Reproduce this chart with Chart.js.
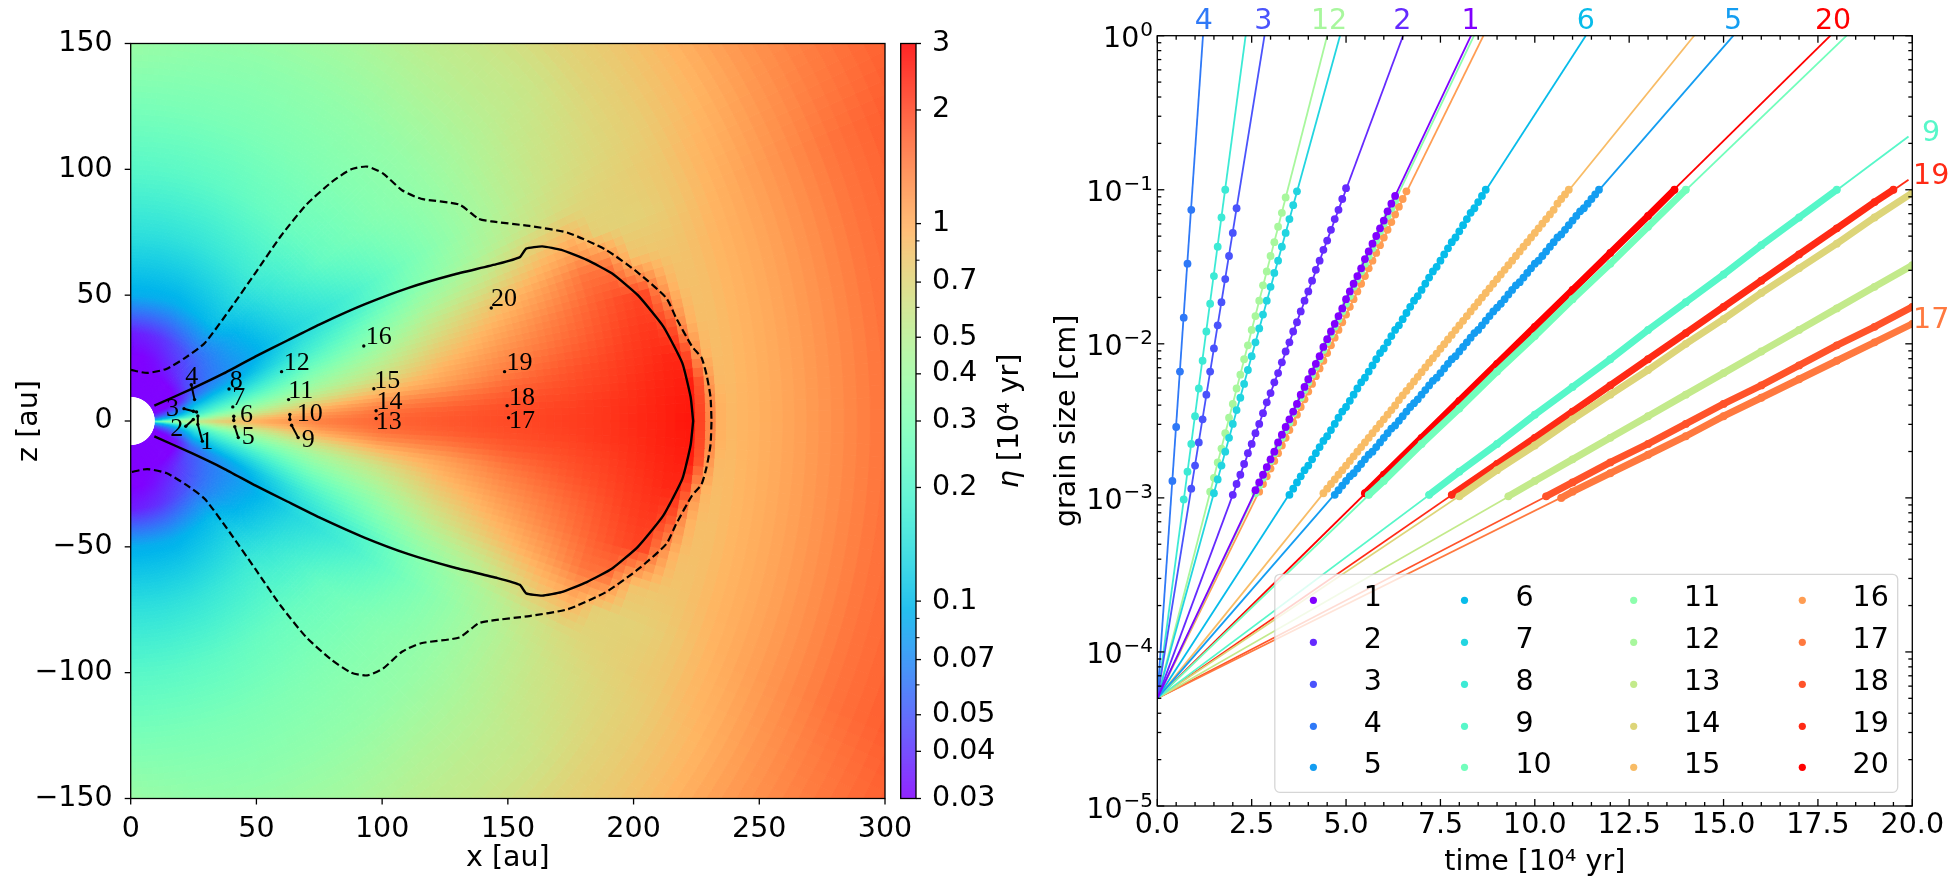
<!DOCTYPE html>
<html><head><meta charset="utf-8">
<script src="https://cdn.jsdelivr.net/npm/chart.js@4"></script>
<style>html,body{margin:0;padding:0;background:#fff;overflow:hidden}canvas{position:absolute;left:0;top:0}</style>
</head><body>
<canvas id="map" width="1958" height="890"></canvas>
<canvas id="bar" width="1958" height="890"></canvas>
<canvas id="tracks" width="1958" height="890"></canvas>
<script>
// ---------- left panel data ----------
const heatR=[10,15,20,26,35,50,75,100,125,150,175,190,200,210,218,224,228,232,236,245,260,280,300,340];
const heatTheta=[0,2,4,7,10,14,18,22,26,30,40,50,60,70,80,90];
const heatEta=[
[.25,.35,.45,.55,.75,1.0,1.4,1.65,1.8,1.95,2.1,2.2,2.35,2.45,2.6,2.65,1.75,1.2,.9,.95,1.05,1.25,1.5,1.9],
[.14,.2,.3,.38,.55,.78,1.2,1.55,1.72,1.9,2.05,2.2,2.3,2.45,2.55,2.6,1.7,1.15,.9,.95,1.05,1.25,1.5,1.9],
[.09,.12,.17,.24,.38,.55,.95,1.3,1.48,1.75,1.95,2.1,2.25,2.4,2.5,2.55,1.6,1.0,.88,.95,1.05,1.25,1.5,1.9],
[.07,.08,.11,.16,.24,.38,.62,.88,1.1,1.45,1.8,2.0,2.15,2.3,2.45,1.8,1.0,.9,.88,.95,1.05,1.25,1.5,1.9],
[.05,.06,.08,.13,.18,.27,.44,.62,.93,1.25,1.6,1.85,2.05,2.2,2.0,1.1,.9,.87,.88,.95,1.05,1.25,1.5,1.9],
[.04,.045,.06,.1,.13,.18,.32,.46,.72,1.02,1.4,1.7,1.9,2.05,1.2,.88,.86,.86,.88,.95,1.05,1.25,1.5,1.9],
[.033,.035,.045,.075,.1,.13,.23,.34,.55,.8,1.15,1.5,1.5,.85,.82,.82,.83,.85,.88,.95,1.05,1.25,1.5,1.9],
[.03,.03,.035,.058,.075,.1,.17,.26,.4,.55,.85,1.0,.75,.73,.74,.76,.78,.81,.84,.92,1.05,1.25,1.5,1.9],
[.03,.03,.032,.05,.065,.085,.14,.19,.3,.42,.58,.66,.7,.73,.75,.77,.79,.8,.82,.9,1.0,1.2,1.4,1.75],
[.03,.03,.03,.047,.06,.08,.13,.18,.27,.38,.52,.6,.64,.68,.71,.73,.75,.76,.78,.85,.95,1.15,1.33,1.7],
[.03,.03,.03,.042,.055,.085,.15,.24,.31,.37,.47,.53,.56,.6,.65,.7,.72,.74,.76,.8,.9,1.1,1.3,1.6],
[.03,.03,.03,.038,.05,.1,.17,.25,.31,.36,.46,.52,.55,.6,.65,.7,.72,.74,.76,.8,.9,1.1,1.3,1.6],
[.03,.03,.03,.035,.045,.095,.16,.24,.3,.35,.43,.5,.55,.6,.65,.7,.72,.74,.76,.8,.9,1.1,1.3,1.6],
[.03,.03,.03,.032,.04,.09,.15,.225,.29,.34,.43,.5,.55,.6,.65,.7,.72,.74,.76,.8,.9,1.1,1.3,1.6],
[.03,.03,.03,.03,.037,.09,.145,.215,.285,.35,.43,.5,.55,.6,.65,.7,.72,.74,.76,.8,.9,1.1,1.3,1.6],
[.03,.03,.03,.03,.035,.09,.145,.21,.28,.38,.45,.5,.55,.6,.65,.7,.72,.74,.76,.8,.9,1.1,1.3,1.6]];
const solidX=[9.4,24.3,37,49.7,62.3,75,92.7,110.5,128.2,145.9,154.8,157.3,163.7,171.3,181.4,191.5,201.7,211.8,219.4,222.7,223.7];
const solidZ=[6.1,12.8,18.9,25.7,32,38.3,46.2,52.9,58.1,62.4,65.1,68.5,69.4,68,64,58.6,50,37.6,23,9.5,0];
const dashX=[0,6.6,14.2,21.8,29.4,39.5,49.7,59.8,69.9,80,87.7,94,100.3,107.9,115.5,130.7,138.3,143.4,158.6,173.8,189,201.7,213,216.9,223.2,227,229,230.6,231];
const dashZ=[20.3,19.1,20.7,25.2,30.9,44.4,59,73.6,86,95,100,101.1,98.4,91.7,88.3,86,80.4,79.3,77.5,74.8,68,59,48.9,41,29.7,25.2,18.5,9.5,0];
const trackX=[[26.7,26.7,28.5],[21.9,24.9],[21.2,24.9,26.2],[24.1,25.4],[41.4,42.8],[41,41],[40.6],[39.1],[64,66.6],[63.3,63.3],[62.8],[60],[97.6],[97.6],[96.7],[92.7],[150.3],[149.7],[148.7],[143.4]];
const trackZ=[[2,-1.4,-8],[-2.1,.6],[4.9,3.9,3.6],[14.4,8.5],[-2.3,-6.6],[1.9,.2],[5.6],[12.7],[-1.7,-6.6],[2.6,.6],[8.5],[19.6],[1],[4.1],[12.8],[29.8],[1.3],[6.1],[19.6],[44.9]];
const pointLabelX=[30.2,18.3,16.6,24.3,46.8,46.1,43,42,70.6,71.2,67.6,66,102.6,102.9,102,98.7,155.6,155.6,154.6,148.5];
const pointLabelZ=[-8.6,-3.1,4.6,17.6,-6.6,2.2,9.2,15.8,-7.5,2.8,12,22.8,-.4,7.5,16,33.5,-.1,9.2,23,48.6];
const xTicksMap=[0,50,100,150,200,250,300];
const zTicksMap=[-150,-100,-50,0,50,100,150];
const barTicks=[.03,.04,.05,.06,.07,.08,.09,.1,.2,.3,.4,.5,.6,.7,.8,.9,1,2,3];
const barLabels=[.03,.04,.05,.07,.1,.2,.3,.4,.5,.7,1,2,3];

// ---------- right panel data: log10(grain size [cm]) at the time of each plotted dot ----------
const seriesNames=['1','2','3','4','5','6','7','8','9','10','11','12','13','14','15','16','17','18','19','20'];
const lineEndT=[8.31,6.51,2.84,1.21,15.26,11.35,4.84,2.34,19.9,18.26,8.39,4.5,20,20,14.22,8.64,20,20,19.9,17.83];
const lineEndLog=[0,0,0,0,0,0,0,0,-.654,0,0,0,-1.487,-1.017,0,0,-1.866,-1.758,-.935,0];
const denseBand=[0,0,0,0,0,0,0,0,1,1,0,0,1,1,0,0,1,1,1,1];
const t1=[2.6,2.7,2.8,2.9,3,3.1,3.2,3.3,3.4,3.5,3.6,3.7,3.8,3.9,4,4.1,4.2,4.3,4.4,4.5,4.6,4.7,4.8,4.9,5,5.1,5.2,5.3,5.4,5.5,5.6,5.7,5.8,5.9,6,6.1,6.2,6.3];
const l1=[-2.95,-2.9,-2.85,-2.8,-2.75,-2.7,-2.64,-2.59,-2.54,-2.49,-2.44,-2.39,-2.33,-2.28,-2.23,-2.18,-2.13,-2.08,-2.02,-1.97,-1.92,-1.87,-1.82,-1.77,-1.71,-1.66,-1.61,-1.56,-1.51,-1.45,-1.4,-1.35,-1.3,-1.25,-1.2,-1.14,-1.09,-1.04];
const t2=[2,2.1,2.2,2.3,2.4,2.5,2.6,2.7,2.8,2.9,3,3.1,3.2,3.3,3.4,3.5,3.6,3.7,3.8,3.9,4,4.1,4.2,4.3,4.4,4.5,4.6,4.7,4.8,4.9,5];
const l2=[-2.98,-2.91,-2.85,-2.78,-2.71,-2.65,-2.58,-2.52,-2.45,-2.38,-2.32,-2.25,-2.19,-2.12,-2.05,-1.99,-1.92,-1.86,-1.79,-1.72,-1.66,-1.59,-1.52,-1.46,-1.39,-1.33,-1.26,-1.19,-1.13,-1.06,-.99];
const t3=[.9,1,1.1,1.2,1.3,1.4,1.5,1.6,1.7,1.8,1.9,2,2.1];
const l3=[-2.94,-2.79,-2.64,-2.49,-2.33,-2.18,-2.03,-1.88,-1.73,-1.58,-1.43,-1.28,-1.12];
const t4=[.4,.5,.6,.7,.8,.9];
const l4=[-2.89,-2.54,-2.18,-1.83,-1.48,-1.13];
const t5=[4.7,4.8,4.9,5,5.1,5.2,5.3,5.4,5.5,5.6,5.7,5.8,5.9,6,6.1,6.2,6.3,6.4,6.5,6.6,6.7,6.8,6.9,7,7.1,7.2,7.3,7.4,7.5,7.6,7.7,7.8,7.9,8,8.1,8.2,8.3,8.4,8.5,8.6,8.7,8.8,8.9,9,9.1,9.2,9.3,9.4,9.5,9.6,9.7,9.8,9.9,10,10.1,10.2,10.3,10.4,10.5,10.6,10.7,10.8,10.9,11,11.1,11.2,11.3,11.4,11.5,11.6,11.7];
const l5=[-2.98,-2.95,-2.92,-2.89,-2.86,-2.84,-2.81,-2.78,-2.75,-2.72,-2.7,-2.67,-2.64,-2.61,-2.58,-2.55,-2.53,-2.5,-2.47,-2.44,-2.41,-2.385,-2.36,-2.33,-2.3,-2.27,-2.24,-2.22,-2.19,-2.16,-2.13,-2.1,-2.08,-2.05,-2.02,-1.99,-1.96,-1.93,-1.91,-1.88,-1.85,-1.82,-1.79,-1.765,-1.74,-1.71,-1.68,-1.65,-1.62,-1.6,-1.57,-1.54,-1.51,-1.48,-1.46,-1.43,-1.4,-1.37,-1.34,-1.31,-1.29,-1.26,-1.23,-1.2,-1.17,-1.14,-1.12,-1.09,-1.06,-1.03,-1];
const t6=[3.5,3.6,3.7,3.8,3.9,4,4.1,4.2,4.3,4.4,4.5,4.6,4.7,4.8,4.9,5,5.1,5.2,5.3,5.4,5.5,5.6,5.7,5.8,5.9,6,6.1,6.2,6.3,6.4,6.5,6.6,6.7,6.8,6.9,7,7.1,7.2,7.3,7.4,7.5,7.6,7.7,7.8,7.9,8,8.1,8.2,8.3,8.4,8.5,8.6,8.7];
const l6=[-2.98,-2.94,-2.9,-2.86,-2.82,-2.79,-2.75,-2.71,-2.67,-2.63,-2.6,-2.56,-2.52,-2.48,-2.44,-2.41,-2.37,-2.33,-2.29,-2.25,-2.22,-2.18,-2.14,-2.1,-2.06,-2.03,-1.99,-1.95,-1.91,-1.88,-1.84,-1.8,-1.76,-1.72,-1.69,-1.65,-1.61,-1.57,-1.53,-1.5,-1.46,-1.42,-1.38,-1.34,-1.31,-1.27,-1.23,-1.19,-1.15,-1.12,-1.08,-1.04,-1];
const t7=[1.5,1.6,1.7,1.8,1.9,2,2.1,2.2,2.3,2.4,2.5,2.6,2.7,2.8,2.9,3,3.1,3.2,3.3,3.4,3.5,3.6,3.7];
const l7=[-2.97,-2.88,-2.79,-2.7,-2.61,-2.52,-2.43,-2.35,-2.26,-2.17,-2.08,-1.99,-1.9,-1.81,-1.72,-1.63,-1.54,-1.46,-1.37,-1.28,-1.19,-1.1,-1.01];
const t8=[.7,.8,.9,1,1.1,1.2,1.3,1.4,1.5,1.6,1.7,1.8];
const l8=[-3.01,-2.83,-2.65,-2.47,-2.29,-2.11,-1.92,-1.74,-1.56,-1.37,-1.18,-1];
const t9=[7.2,8,9,10,11,12,13,14,15,16,17,18];
const l9=[-2.98,-2.83,-2.65,-2.46,-2.28,-2.1,-1.91,-1.73,-1.55,-1.36,-1.18,-1];
const t10=[5.6,6,7,8,9,10,11,12,13,14];
const l10=[-2.98,-2.89,-2.65,-2.42,-2.18,-1.95,-1.71,-1.48,-1.24,-1];
const t11=[2.6,2.7,2.8,2.9,3,3.1,3.2,3.3,3.4,3.5,3.6,3.7,3.8,3.9,4,4.1,4.2,4.3,4.4,4.5,4.6,4.7,4.8,4.9,5,5.1,5.2,5.3,5.4,5.5,5.6,5.7,5.8,5.9,6,6.1,6.2,6.3];
const l11=[-2.97,-2.92,-2.87,-2.81,-2.76,-2.71,-2.66,-2.61,-2.56,-2.51,-2.45,-2.4,-2.35,-2.3,-2.25,-2.2,-2.15,-2.1,-2.04,-1.99,-1.94,-1.89,-1.84,-1.79,-1.74,-1.69,-1.63,-1.58,-1.53,-1.48,-1.43,-1.38,-1.33,-1.27,-1.22,-1.17,-1.12,-1.07];
const t12=[1.4,1.5,1.6,1.7,1.8,1.9,2,2.1,2.2,2.3,2.4,2.5,2.6,2.7,2.8,2.9,3,3.1,3.2,3.3,3.4];
const l12=[-2.96,-2.87,-2.77,-2.68,-2.58,-2.48,-2.39,-2.29,-2.2,-2.1,-2.01,-1.91,-1.82,-1.72,-1.62,-1.53,-1.43,-1.34,-1.24,-1.15,-1.05];
const t13=[9.3,10,11,12,13,14,15,16,17,18,19,20];
const l13=[-2.99,-2.89,-2.75,-2.61,-2.47,-2.33,-2.19,-2.05,-1.91,-1.77,-1.63,-1.49];
const t14=[8,9,10,11,12,13,14,15,16,17,18,19,20];
const l14=[-2.99,-2.82,-2.66,-2.49,-2.33,-2.17,-2,-1.84,-1.67,-1.51,-1.35,-1.18,-1.02];
const t15=[4.4,4.5,4.6,4.7,4.8,4.9,5,5.1,5.2,5.3,5.4,5.5,5.6,5.7,5.8,5.9,6,6.1,6.2,6.3,6.4,6.5,6.6,6.7,6.8,6.9,7,7.1,7.2,7.3,7.4,7.5,7.6,7.7,7.8,7.9,8,8.1,8.2,8.3,8.4,8.5,8.6,8.7,8.8,8.9,9,9.1,9.2,9.3,9.4,9.5,9.6,9.7,9.8,9.9,10,10.1,10.2,10.3,10.4,10.5,10.6,10.7,10.8,10.9];
const l15=[-2.97,-2.94,-2.91,-2.88,-2.85,-2.82,-2.79,-2.76,-2.73,-2.7,-2.67,-2.64,-2.61,-2.58,-2.55,-2.52,-2.49,-2.46,-2.43,-2.4,-2.365,-2.335,-2.305,-2.274,-2.244,-2.214,-2.184,-2.153,-2.123,-2.093,-2.063,-2.032,-2.002,-1.972,-1.942,-1.911,-1.881,-1.851,-1.82,-1.79,-1.76,-1.73,-1.7,-1.67,-1.64,-1.61,-1.58,-1.55,-1.52,-1.49,-1.46,-1.43,-1.4,-1.37,-1.34,-1.31,-1.28,-1.25,-1.22,-1.19,-1.16,-1.13,-1.09,-1.06,-1.03,-1];
const t16=[2.7,2.8,2.9,3,3.1,3.2,3.3,3.4,3.5,3.6,3.7,3.8,3.9,4,4.1,4.2,4.3,4.4,4.5,4.6,4.7,4.8,4.9,5,5.1,5.2,5.3,5.4,5.5,5.6,5.7,5.8,5.9,6,6.1,6.2,6.3,6.4,6.5,6.6];
const l16=[-2.96,-2.91,-2.86,-2.81,-2.76,-2.71,-2.66,-2.61,-2.56,-2.51,-2.46,-2.41,-2.36,-2.31,-2.26,-2.21,-2.16,-2.11,-2.06,-2.01,-1.96,-1.91,-1.86,-1.81,-1.76,-1.71,-1.66,-1.61,-1.56,-1.51,-1.46,-1.41,-1.36,-1.31,-1.26,-1.21,-1.16,-1.11,-1.06,-1.01];
const t17=[10.7,11,12,13,14,15,16,17,18,19,20];
const l17=[-3,-2.96,-2.84,-2.72,-2.6,-2.47,-2.35,-2.23,-2.11,-1.99,-1.87];
const t18=[10.3,11,12,13,14,15,16,17,18,19,20];
const l18=[-2.99,-2.9,-2.77,-2.65,-2.52,-2.39,-2.27,-2.14,-2.01,-1.89,-1.76];
const t19=[7.8,9,10,11,12,13,14,15,16,17,18,19,19.5];
const l19=[-2.98,-2.78,-2.61,-2.44,-2.27,-2.1,-1.93,-1.76,-1.59,-1.42,-1.25,-1.08,-1];
const t20=[5.5,6,7,8,9,10,11,12,13,13.7];
const l20=[-2.97,-2.85,-2.61,-2.37,-2.13,-1.89,-1.65,-1.41,-1.17,-1];
const dotT=[t1,t2,t3,t4,t5,t6,t7,t8,t9,t10,t11,t12,t13,t14,t15,t16,t17,t18,t19,t20];
const dotLog=[l1,l2,l3,l4,l5,l6,l7,l8,l9,l10,l11,l12,l13,l14,l15,l16,l17,l18,l19,l20];
const startSize=5e-5;
const endLabels=['4','3','12','2','1','6','5','20','9','19','17'];
const endLabelT=[1.23,2.81,4.55,6.49,8.3,11.35,15.25,17.9,20.5,20.5,20.5];
const endLabelA=[1.233,1.233,1.233,1.233,1.233,1.233,1.233,1.233,.233,.121,.0141];
const endLabelIdx=[3,2,11,1,0,5,4,19,8,18,16];
const xTicksTime=[0,2.5,5,7.5,10,12.5,15,17.5,20];
const yTicksSize=[1e-5,1e-4,1e-3,1e-2,1e-1,1];
const ySizeExp=['−5','−4','−3','−2','−1','0'];

// ---------- style ----------
const FS=28.5, LINE=1.3;
Chart.defaults.font.family='"DejaVu Sans"';
Chart.defaults.font.size=FS;
Chart.defaults.color='#000';
Chart.defaults.animation=false;
Chart.defaults.responsive=false;
Chart.defaults.devicePixelRatio=1;
Chart.defaults.plugins.legend.display=false;
Chart.defaults.plugins.tooltip.enabled=false;
const rainbow=t=>{const c=v=>Math.round(255*Math.max(0,Math.min(1,v)));
  return `rgb(${c(Math.abs(2*t-.5))},${c(Math.sin(Math.PI*t))},${c(Math.cos(Math.PI*t/2))})`;};
const normEta=e=>Math.log(e/.03)/Math.log(100);
const seriesColor=i=>rainbow(i/19);
const frame=(c)=>{const {ctx,chartArea:a}=c;ctx.save();ctx.strokeStyle='#000';ctx.lineWidth=LINE;ctx.strokeRect(a.left,a.top,a.right-a.left,a.bottom-a.top);ctx.restore();};
const tick=(ctx,x0,y0,x1,y1,w)=>{ctx.lineWidth=w||LINE;ctx.beginPath();ctx.moveTo(x0,y0);ctx.lineTo(x1,y1);ctx.stroke();};

// ---------- heat lookup ----------
function findIdx(arr,v){let i=0;while(i<arr.length-2&&v>arr[i+1])i++;return i;}
function heatAt(r,th){
  const i=findIdx(heatR,r),j=findIdx(heatTheta,th);
  const u=Math.max(0,Math.min(1,(r-heatR[i])/(heatR[i+1]-heatR[i])));
  const v=Math.max(0,Math.min(1,(th-heatTheta[j])/(heatTheta[j+1]-heatTheta[j])));
  const L=(a,b)=>Math.log(heatEta[a][b]);
  return Math.exp((1-u)*(1-v)*L(j,i)+u*(1-v)*L(j,i+1)+(1-u)*v*L(j+1,i)+u*v*L(j+1,i+1));
}
const heatPlugin={id:'heat',beforeDatasetsDraw(c){
  const {ctx,chartArea:a,scales:{x,y}}=c;
  ctx.save();ctx.beginPath();ctx.rect(a.left,a.top,a.right-a.left,a.bottom-a.top);ctx.clip();
  const STEP=.9,dTh=STEP*Math.PI/180,dLn=.018;ctx.lineWidth=1;
  for(let k=-100;k<100;k++){
    const t0=k*dTh,t1_=(k+1)*dTh,tc=Math.abs((k+.5)*STEP);
    for(let r0=9.8;r0<345;r0*=Math.exp(dLn)){
      const r1=r0*Math.exp(dLn),col=rainbow(normEta(heatAt(Math.sqrt(r0*r1),tc)));
      const P=(r,t)=>[x.getPixelForValue(r*Math.cos(t)),y.getPixelForValue(r*Math.sin(t))];
      ctx.fillStyle=col;ctx.strokeStyle=col;ctx.beginPath();
      ctx.moveTo(...P(r0,t0));ctx.lineTo(...P(r1,t0));ctx.lineTo(...P(r1,t1_));ctx.lineTo(...P(r0,t1_));ctx.closePath();
      ctx.fill();ctx.stroke();
    }
  }
  ctx.restore();
},afterDatasetsDraw(c){
  const {ctx,chartArea:a,scales:{x,y}}=c;
  ctx.save();ctx.fillStyle='#000';ctx.font='26px "Liberation Serif"';ctx.textAlign='center';ctx.textBaseline='middle';
  seriesNames.forEach((n,i)=>ctx.fillText(n,x.getPixelForValue(pointLabelX[i]),y.getPixelForValue(pointLabelZ[i])));
  ctx.restore();
  frame(c);
  ctx.save();ctx.strokeStyle='#000';
  xTicksMap.forEach(v=>{const p=x.getPixelForValue(v);tick(ctx,p,a.bottom,p,a.bottom+6);});
  zTicksMap.forEach(v=>{const p=y.getPixelForValue(v);tick(ctx,a.left,p,a.left-6,p);});
  ctx.restore();
}};
const mirror=(xs,zs)=>xs.map((v,i)=>({x:v,y:zs[i]})).concat(xs.map((v,i)=>({x:v,y:-zs[i]})).reverse());
const mapSets=[
 {data:mirror(solidX,solidZ),showLine:true,borderColor:'#000',borderWidth:2.4,pointRadius:0,tension:.15},
 {data:mirror(dashX,dashZ),showLine:true,borderColor:'#000',borderWidth:2.2,borderDash:[7.5,3.6],pointRadius:0,tension:.2}
];
trackX.forEach((xs,i)=>mapSets.push({data:xs.map((v,j)=>({x:v,y:trackZ[i][j]})),showLine:true,borderColor:'#000',borderWidth:2,pointRadius:1.7,pointBackgroundColor:'#000',pointBorderWidth:0}));
new Chart(document.getElementById('map'),{type:'scatter',data:{datasets:mapSets},plugins:[heatPlugin],options:{
  layout:{padding:{left:0,top:43.5,right:1073,bottom:0}},
  scales:{
   x:{type:'linear',min:0,max:300,grid:{display:false},border:{display:false},afterFit(s){s.height=91.5;},
      ticks:{stepSize:50,padding:6,maxRotation:0},title:{display:true,text:'x [au]',padding:{top:0,bottom:14}}},
   y:{type:'linear',min:-150,max:150,grid:{display:false},border:{display:false},afterFit(s){s.width=130.7;},
      ticks:{stepSize:50,padding:10,callback:v=>String(v).replace('-','−')},title:{display:true,text:'z [au]',padding:{top:12,bottom:0}}}
  }}});

// ---------- colour bar ----------
const barPlugin={id:'cbar',beforeDatasetsDraw(c){
  const {ctx,chartArea:a,scales:{y}}=c;
  for(let p=a.top;p<a.bottom;p++){ctx.fillStyle=rainbow(normEta(y.getValueForPixel(p+.5)));ctx.fillRect(a.left,p,a.right-a.left,1.2);}
},afterDraw(c){
  const {ctx,chartArea:a,scales:{y}}=c;
  frame(c);ctx.save();ctx.strokeStyle='#000';
  barTicks.forEach(v=>{const p=y.getPixelForValue(v),maj=barLabels.includes(v);tick(ctx,a.right,p,a.right+(maj?5:3.5),p,maj?LINE:1);});
  ctx.translate(1011,421);ctx.rotate(-Math.PI/2);ctx.fillStyle='#000';ctx.textBaseline='middle';ctx.textAlign='left';
  const F=FS+'px "DejaVu Sans"',FI='italic '+F;
  ctx.font=FI;const w0=ctx.measureText('η').width;
  ctx.font=F;const rest=' [10⁴ yr]',w1=ctx.measureText(rest).width;
  ctx.font=FI;ctx.fillText('η',-(w0+w1)/2,0);
  ctx.font=F;ctx.fillText(rest,-(w0+w1)/2+w0,0);
  ctx.restore();
}};
new Chart(document.getElementById('bar'),{type:'scatter',data:{datasets:[]},plugins:[barPlugin],options:{
  layout:{padding:{left:900.7,top:43.5,right:942,bottom:91.5}},
  scales:{
   x:{type:'linear',display:false,min:0,max:1},
   y:{type:'logarithmic',position:'right',min:.03,max:3,grid:{display:false},border:{display:false},afterFit(s){s.width=100;},
      afterBuildTicks(s){s.ticks=barTicks.map(v=>({value:v}));},
      ticks:{autoSkip:false,padding:8,callback:v=>barLabels.includes(v)?String(v):''}}
  }}});

// ---------- right panel ----------
const trackPlugin={id:'trk',afterDatasetsDraw(c){
  const {ctx,chartArea:a,scales:{x,y}}=c;
  // legend box
  const bx=1274.8,by=574.3,bw=622.9,bh=218;
  ctx.save();ctx.beginPath();ctx.roundRect(bx,by,bw,bh,5);ctx.fillStyle='rgba(255,255,255,.8)';ctx.fill();ctx.strokeStyle='rgba(204,204,204,.8)';ctx.lineWidth=1.3;ctx.stroke();
  const dx=[1313.4,1464.5,1633.7,1802.3],lx=[1363.8,1515.4,1684,1852.6],ry=[600.3,642.3,684.3,726.3,767.3];
  ctx.textAlign='left';ctx.textBaseline='middle';ctx.font=FS+'px "DejaVu Sans"';
  seriesNames.forEach((n,i)=>{const col=Math.floor(i/5),row=i%5;
    ctx.fillStyle=seriesColor(i);ctx.beginPath();ctx.arc(dx[col],ry[row],3.6,0,7);ctx.fill();
    ctx.fillStyle='#000';ctx.fillText(n,lx[col],ry[row]-2);});
  ctx.restore();
  // frame and inward ticks on all sides
  frame(c);ctx.save();ctx.strokeStyle='#000';
  for(let v=0;v<=20.001;v+=.5){const p=x.getPixelForValue(v),maj=Math.abs(v/2.5-Math.round(v/2.5))<1e-6,L=maj?7:4;
    tick(ctx,p,a.bottom,p,a.bottom-L);tick(ctx,p,a.top,p,a.top+L);}
  yTicksSize.forEach(d=>{for(let m=1;m<10;m++){const v=d*m;if(v>1.0001)break;const p=y.getPixelForValue(v),L=m===1?7:4;
    tick(ctx,a.left,p,a.left+L,p);tick(ctx,a.right,p,a.right-L,p);}});
  // log-axis labels with raised exponent
  ctx.fillStyle='#000';ctx.textBaseline='alphabetic';ctx.textAlign='right';
  yTicksSize.forEach((d,i)=>{const p=y.getPixelForValue(d)+11.5;
    ctx.font='20px "DejaVu Sans"';const w=ctx.measureText(ySizeExp[i]).width;
    ctx.fillText(ySizeExp[i],1153,p-11);
    ctx.font=FS+'px "DejaVu Sans"';ctx.fillText('10',1153-w-1,p);});
  // coloured end labels
  ctx.font=FS+'px "DejaVu Sans"';ctx.textAlign='center';ctx.textBaseline='middle';
  endLabels.forEach((n,i)=>{ctx.fillStyle=seriesColor(endLabelIdx[i]);ctx.fillText(n,x.getPixelForValue(endLabelT[i]),y.getPixelForValue(endLabelA[i]));});
  ctx.restore();
}};
const trackSets=[];
seriesNames.forEach((n,i)=>{
  const col=seriesColor(i);
  trackSets.push({label:n+' line',data:[{x:0,y:startSize},{x:lineEndT[i],y:Math.pow(10,lineEndLog[i])}],showLine:true,borderColor:col,borderWidth:1.8,pointRadius:0});
  trackSets.push({label:n,data:dotT[i].map((t,j)=>({x:t,y:Math.pow(10,dotLog[i][j])})),showLine:!!denseBand[i],borderColor:col,borderWidth:7,borderCapStyle:'round',pointRadius:3.9,pointBackgroundColor:col,pointBorderWidth:0});
});
new Chart(document.getElementById('tracks'),{type:'scatter',data:{datasets:trackSets},plugins:[trackPlugin],options:{
  layout:{padding:{left:1000,top:35.7,right:45.7,bottom:0}},
  scales:{
   x:{type:'linear',min:0,max:20,grid:{display:false},border:{display:false},afterFit(s){s.height=84;},
      afterBuildTicks(s){s.ticks=xTicksTime.map(v=>({value:v}));},
      ticks:{padding:-6,maxRotation:0,autoSkip:false,callback:v=>Number(v).toFixed(1)},title:{display:true,text:'time [10⁴ yr]',padding:{top:0,bottom:10}}},
   y:{type:'logarithmic',min:1e-5,max:1,grid:{display:false},border:{display:false},afterFit(s){s.width=157.3;},
      afterBuildTicks(s){s.ticks=yTicksSize.map(v=>({value:v}));},
      ticks:{autoSkip:false,padding:6,callback:()=>''},
      title:{display:true,text:'grain size [cm]',padding:{top:50,bottom:0}}}
  }}});
</script>
</body></html>
